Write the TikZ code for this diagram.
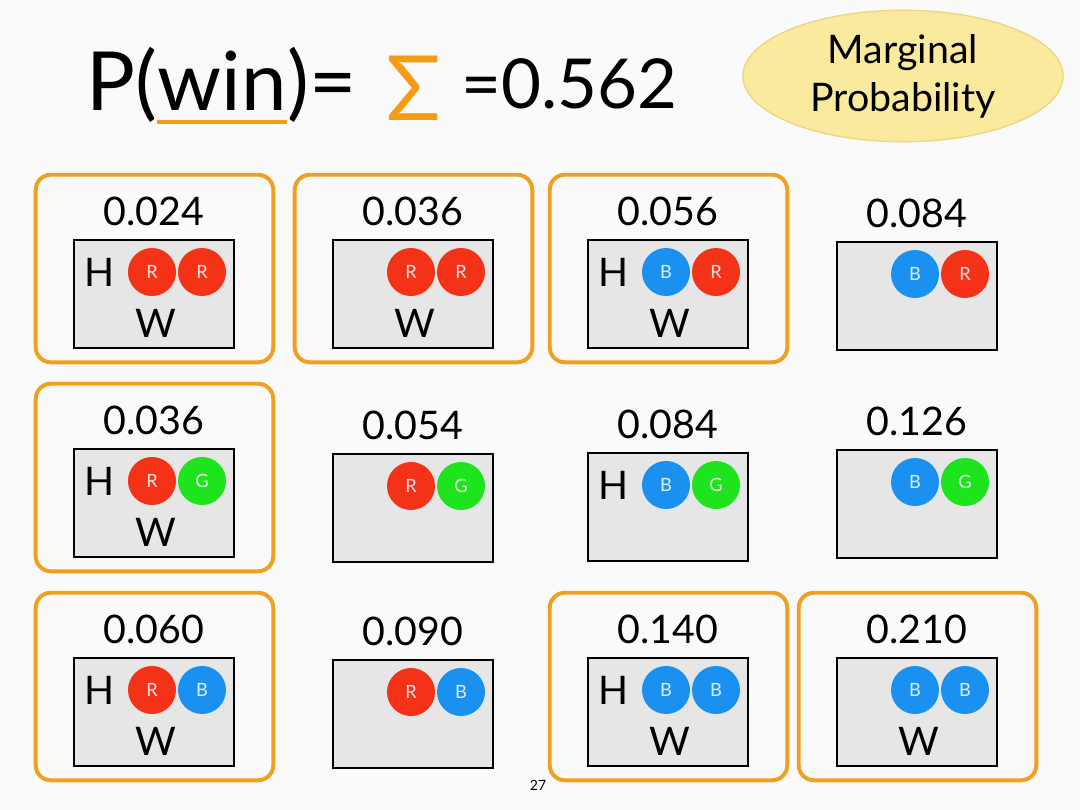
\documentclass[tikz,border=0pt]{standalone}
\usepackage{fontspec}
\setmainfont{Lato}
\usepackage{xcolor}
\usetikzlibrary{positioning,calc,shapes.geometric}
\definecolor{bg}{RGB}{250,250,250}
\definecolor{boxgray}{RGB}{230,230,231}
\definecolor{ballR}{RGB}{243,50,24}
\definecolor{ballB}{RGB}{26,145,240}
\definecolor{ballG}{RGB}{30,228,30}
\definecolor{frameor}{RGB}{240,160,32}
\definecolor{sigor}{RGB}{246,155,20}
\definecolor{ellfill}{RGB}{250,234,158}
\definecolor{ellline}{RGB}{236,214,128}

\begin{document}
\begin{tikzpicture}[x=0.025cm,y=-0.025cm,
title/.style={font=\fontsize{58}{60}\selectfont,inner sep=0,anchor=base west},
cell/.style={draw=black,line width=1.8pt,fill=boxgray,minimum width=4cm,minimum height=2.7cm,inner sep=0},
prob/.style={font=\fontsize{28}{30}\selectfont,inner sep=0},
tag/.style={font=\fontsize{28}{30}\selectfont,inner sep=0},
ball/.style={circle,minimum size=1.2cm,inner sep=0,font=\fontsize{13}{15}\selectfont,text=white,text opacity=0.85},
winframe/.style={draw=frameor,line width=2.8pt,rounded corners=0.38cm}
]
\fill[bg] (0,0) rectangle (1080,810);
\useasboundingbox (0,0) rectangle (1080,810);

% title
\node[title] (tp) at (86,110) {P(};
\node[title] (twin) at (tp.base east) {win};
\node[title] (teq) at (twin.base east) {)=};
\node[title,text=sigor,font=\fontsize{64}{66}\selectfont] (tsig) at (386,120) {Σ};
\node[title,font=\fontsize{49}{52}\selectfont] (tval) at (461,108) {=0.562};
\draw[sigor,line width=2.8pt] ($(twin.base west)+(0,12)$) -- ($(twin.base east)+(0,12)$);

\node[ellipse,fill=ellfill,draw=ellline,line width=1pt,minimum width=8cm,minimum height=3.1cm,
  align=center,font=\fontsize{28}{34}\selectfont] (marg) at (903,76) {Marginal\\Probability};

% cells: col/row/x/y/value/ball1/ball2/H/W
\foreach \c/\r/\px/\py/\val/\ba/\bb/\h/\w in {
  1/1/154/294/0.024/R/R/1/1, 2/1/413/294/0.036/R/R/0/1,
  3/1/668/294/0.056/B/R/1/1, 4/1/917/296/0.084/B/R/0/0,
  1/2/154/503/0.036/R/G/1/1, 2/2/413/508/0.054/R/G/0/0,
  3/2/668/507/0.084/B/G/1/0, 4/2/917/504/0.126/B/G/0/0,
  1/3/154/712/0.060/R/B/1/1, 2/3/413/714/0.090/R/B/0/0,
  3/3/668/712/0.140/B/B/1/1, 4/3/917/712/0.210/B/B/0/1}{
  \node[cell] (box\c\r) at (\px,\py) {};
  \node[prob,above=3.2mm of box\c\r] (num\c\r) {\val};
  \node[ball,fill=ball\ba] (ba\c\r) at ($(box\c\r.center)+(-2,-22)$) {\ba};
  \node[ball,fill=ball\bb] (bb\c\r) at ($(box\c\r.center)+(48,-22)$) {\bb};
  \ifnum\h=1
    \node[tag] (h\c\r) at ($(box\c\r.center)+(-54,-22)$) {H};
  \fi
  \ifnum\w=1
    \node[tag] (w\c\r) at ($(box\c\r.center)+(2,29)$) {W};
    \draw[winframe] ($(box\c\r.south west)+(-37,13)$) rectangle ($(box\c\r.north east)+(38,-64)$);
  \fi
}

\node[font=\fontsize{10}{12}\selectfont] (pnum) at (538,785) {27};
\end{tikzpicture}
\end{document}
